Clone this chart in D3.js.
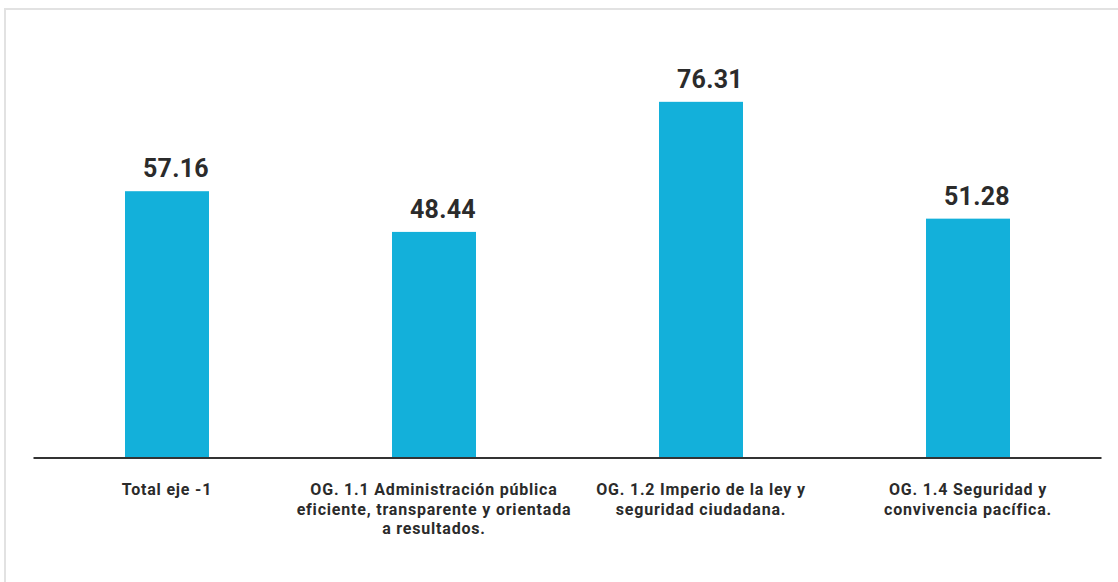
<!DOCTYPE html>
<html>
<head>
<meta charset="utf-8">
<script src="https://cdn.jsdelivr.net/npm/d3@7"></script>
<style>
body { margin:0; background:#fff; font-family:Roboto, "DejaVu Sans", sans-serif; }
</style>
</head>
<body>
<svg id="chart" width="1118" height="582"></svg>
<script>
// datos del gráfico
var categorias = ["Total eje -1",
  "OG. 1.1 Administración pública|eficiente, transparente y orientada|a resultados.",
  "OG. 1.2 Imperio de la ley y|seguridad ciudadana.",
  "OG. 1.4 Seguridad y|convivencia pacífica."];
var valores = [57.16, 48.44, 76.31, 51.28];
var etiquetas = ["57.16", "48.44", "76.31", "51.28"];

var svg = d3.select("#chart");
var base = 458, x0 = 33.5, x1 = 1101.5;

// marco gris claro
svg.append("rect").attr("x", 5).attr("y", 9).attr("width", 1120).attr("height", 600)
  .attr("fill", "none").attr("stroke", "#e2e2e2").attr("stroke-width", 2);

var x = d3.scaleBand().domain(d3.range(categorias.length)).range([x0, x1]).padding(0);
var y = d3.scaleLinear().domain([0, 80]).range([base, base - 373.4]);
var bw = 84;

svg.selectAll("rect.bar").data(valores).enter().append("rect")
  .attr("class", "bar")
  .attr("x", function(d, i) { return x(i) + x.bandwidth() / 2 - bw / 2; })
  .attr("y", function(d) { return y(d); })
  .attr("width", bw)
  .attr("height", function(d) { return base - y(d); })
  .attr("fill", "#13b0da");

svg.selectAll("text.val").data(valores).enter().append("text")
  .attr("class", "val")
  .attr("x", function(d, i) { return x(i) + x.bandwidth() / 2 + bw / 2; })
  .attr("y", function(d) { return y(d) - 14; })
  .attr("text-anchor", "end")
  .attr("font-size", 25).attr("font-weight", "bold").attr("letter-spacing", 0.3)
  .attr("fill", "#2b2b2b")
  .text(function(d, i) { return etiquetas[i]; });

// eje base
svg.append("line").attr("x1", x0).attr("x2", x1).attr("y1", base).attr("y2", base)
  .attr("stroke", "#333").attr("stroke-width", 2);

var lab = svg.selectAll("text.cat").data(categorias).enter().append("text")
  .attr("class", "cat")
  .attr("text-anchor", "middle")
  .attr("font-size", 16).attr("font-weight", "bold").attr("letter-spacing", 0.8)
  .attr("fill", "#2b2b2b");
lab.each(function(d, i) {
  var t = d3.select(this);
  d.split("|").forEach(function(s, j) {
    t.append("tspan").attr("x", x(i) + x.bandwidth() / 2).attr("y", 495 + j * 19.5).text(s);
  });
});
</script>
</body>
</html>
